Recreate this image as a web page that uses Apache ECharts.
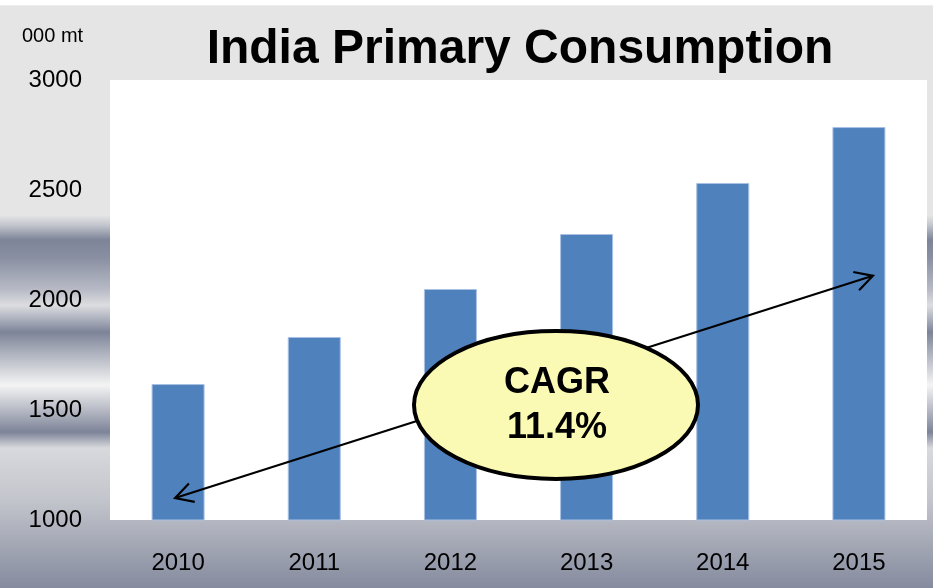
<!DOCTYPE html>
<html>
<head>
<meta charset="utf-8">
<title>India Primary Consumption</title>
<script src="https://cdn.jsdelivr.net/npm/echarts@6/dist/echarts.min.js"></script>
<style>
  html, body { margin: 0; padding: 0; }
  #main { width: 933px; height: 588px; }
</style>
</head>
<body>
<div id="main"></div>
<script>
// data
var years = ['2010', '2011', '2012', '2013', '2014', '2015'];
var consumption = [1618, 1832, 2050, 2300, 2532, 2786];
var yTicks = [1000, 1500, 2000, 2500, 3000];
// CAGR arrow ends, in data coords
var arrowFrom = ['2010', 1100];
var arrowTo = ['2015', 2110];

var font = "'Liberation Sans', Arial, sans-serif";

// grey banded backdrop, like the slide template
var bgStops = [
  [0.000, '#ffffff'], [0.008, '#ffffff'], [0.010, '#e5e5e5'],
  [0.366, '#e5e5e5'], [0.383, '#c2c5cd'], [0.408, '#7d8498'],
  [0.439, '#8a90a2'], [0.493, '#b8bbc6'], [0.519, '#dcdde0'],
  [0.541, '#b0b4c0'], [0.565, '#7d8498'], [0.595, '#a6abb8'],
  [0.655, '#f4f4f4'], [0.697, '#b7bac5'], [0.735, '#7d8498'],
  [0.762, '#d8d9dd'], [0.850, '#c3c5cc'], [1.000, '#858b9e']
];
function bgRect() {
  return {
    type: 'rect', z: -100, silent: true,
    shape: { x: 0, y: 0, width: 933, height: 588 },
    style: {
      fill: new echarts.graphic.LinearGradient(0, 0, 0, 1,
        bgStops.map(function (s) { return { offset: s[0], color: s[1] }; }))
    }
  };
}

var chart = echarts.init(document.getElementById('main'));

var option = {
  animation: false,
  title: {
    text: 'India Primary Consumption',
    left: 515, top: 21, textAlign: 'center',
    textStyle: { fontFamily: font, fontSize: 48, fontWeight: 'bold', color: '#000' }
  },
  grid: {
    left: 110, right: 6, top: 80, bottom: 68,
    show: true, backgroundColor: '#ffffff', borderWidth: 0
  },
  xAxis: {
    type: 'category',
    data: years,
    axisLine: { show: false },
    axisTick: { show: false },
    axisLabel: { fontFamily: font, fontSize: 24, color: '#000', margin: 31 }
  },
  yAxis: {
    type: 'value',
    min: yTicks[0], max: yTicks[yTicks.length - 1], interval: 500,
    axisLine: { show: false },
    axisTick: { show: false },
    splitLine: { show: false },
    axisLabel: {
      fontFamily: font, fontSize: 24, color: '#000', margin: 28,
      formatter: function (v) { return String(v); }
    }
  },
  series: [{
    type: 'bar',
    data: consumption,
    barWidth: 53,
    itemStyle: { color: '#4f81bd', borderColor: '#a9c1e3', borderWidth: 1 }
  }],
  graphic: [bgRect()]
};
chart.setOption(option);

// CAGR arrow + ellipse annotation
var p0 = chart.convertToPixel({ gridIndex: 0 }, arrowFrom);
var p1 = chart.convertToPixel({ gridIndex: 0 }, arrowTo);
p0[0] -= 3; p1[0] += 14;

function head(tip, other) {
  var ang = Math.atan2(other[1] - tip[1], other[0] - tip[0]);
  var len = 20, spread = 0.5;
  return [
    [tip[0] + len * Math.cos(ang - spread), tip[1] + len * Math.sin(ang - spread)],
    tip,
    [tip[0] + len * Math.cos(ang + spread), tip[1] + len * Math.sin(ang + spread)]
  ];
}

var lineStyle = { stroke: '#000', lineWidth: 2.2, fill: null };
chart.setOption({
  graphic: [bgRect(), {
    type: 'text', z: 70,
    x: 22, y: 36,
    style: {
      text: '000 mt', fill: '#000', align: 'left', verticalAlign: 'middle',
      font: '20px ' + font
    }
  }, {
    type: 'line', z: 50,
    shape: { x1: p0[0], y1: p0[1], x2: p1[0], y2: p1[1] },
    style: lineStyle
  }, {
    type: 'polyline', z: 50,
    shape: { points: head(p0, p1) },
    style: lineStyle
  }, {
    type: 'polyline', z: 50,
    shape: { points: head(p1, p0) },
    style: lineStyle
  }, {
    type: 'ellipse', z: 60,
    shape: { cx: 556, cy: 405, rx: 142, ry: 74 },
    style: { fill: '#fafab4', stroke: '#000', lineWidth: 4 }
  }, {
    type: 'text', z: 70,
    x: 557, y: 383,
    style: {
      text: 'CAGR', fill: '#000', align: 'center', verticalAlign: 'middle',
      font: 'bold 36px ' + font
    }
  }, {
    type: 'text', z: 70,
    x: 557, y: 428,
    style: {
      text: '11.4%', fill: '#000', align: 'center', verticalAlign: 'middle',
      font: 'bold 36px ' + font
    }
  }]
}, { replaceMerge: ['graphic'] });
</script>
</body>
</html>
